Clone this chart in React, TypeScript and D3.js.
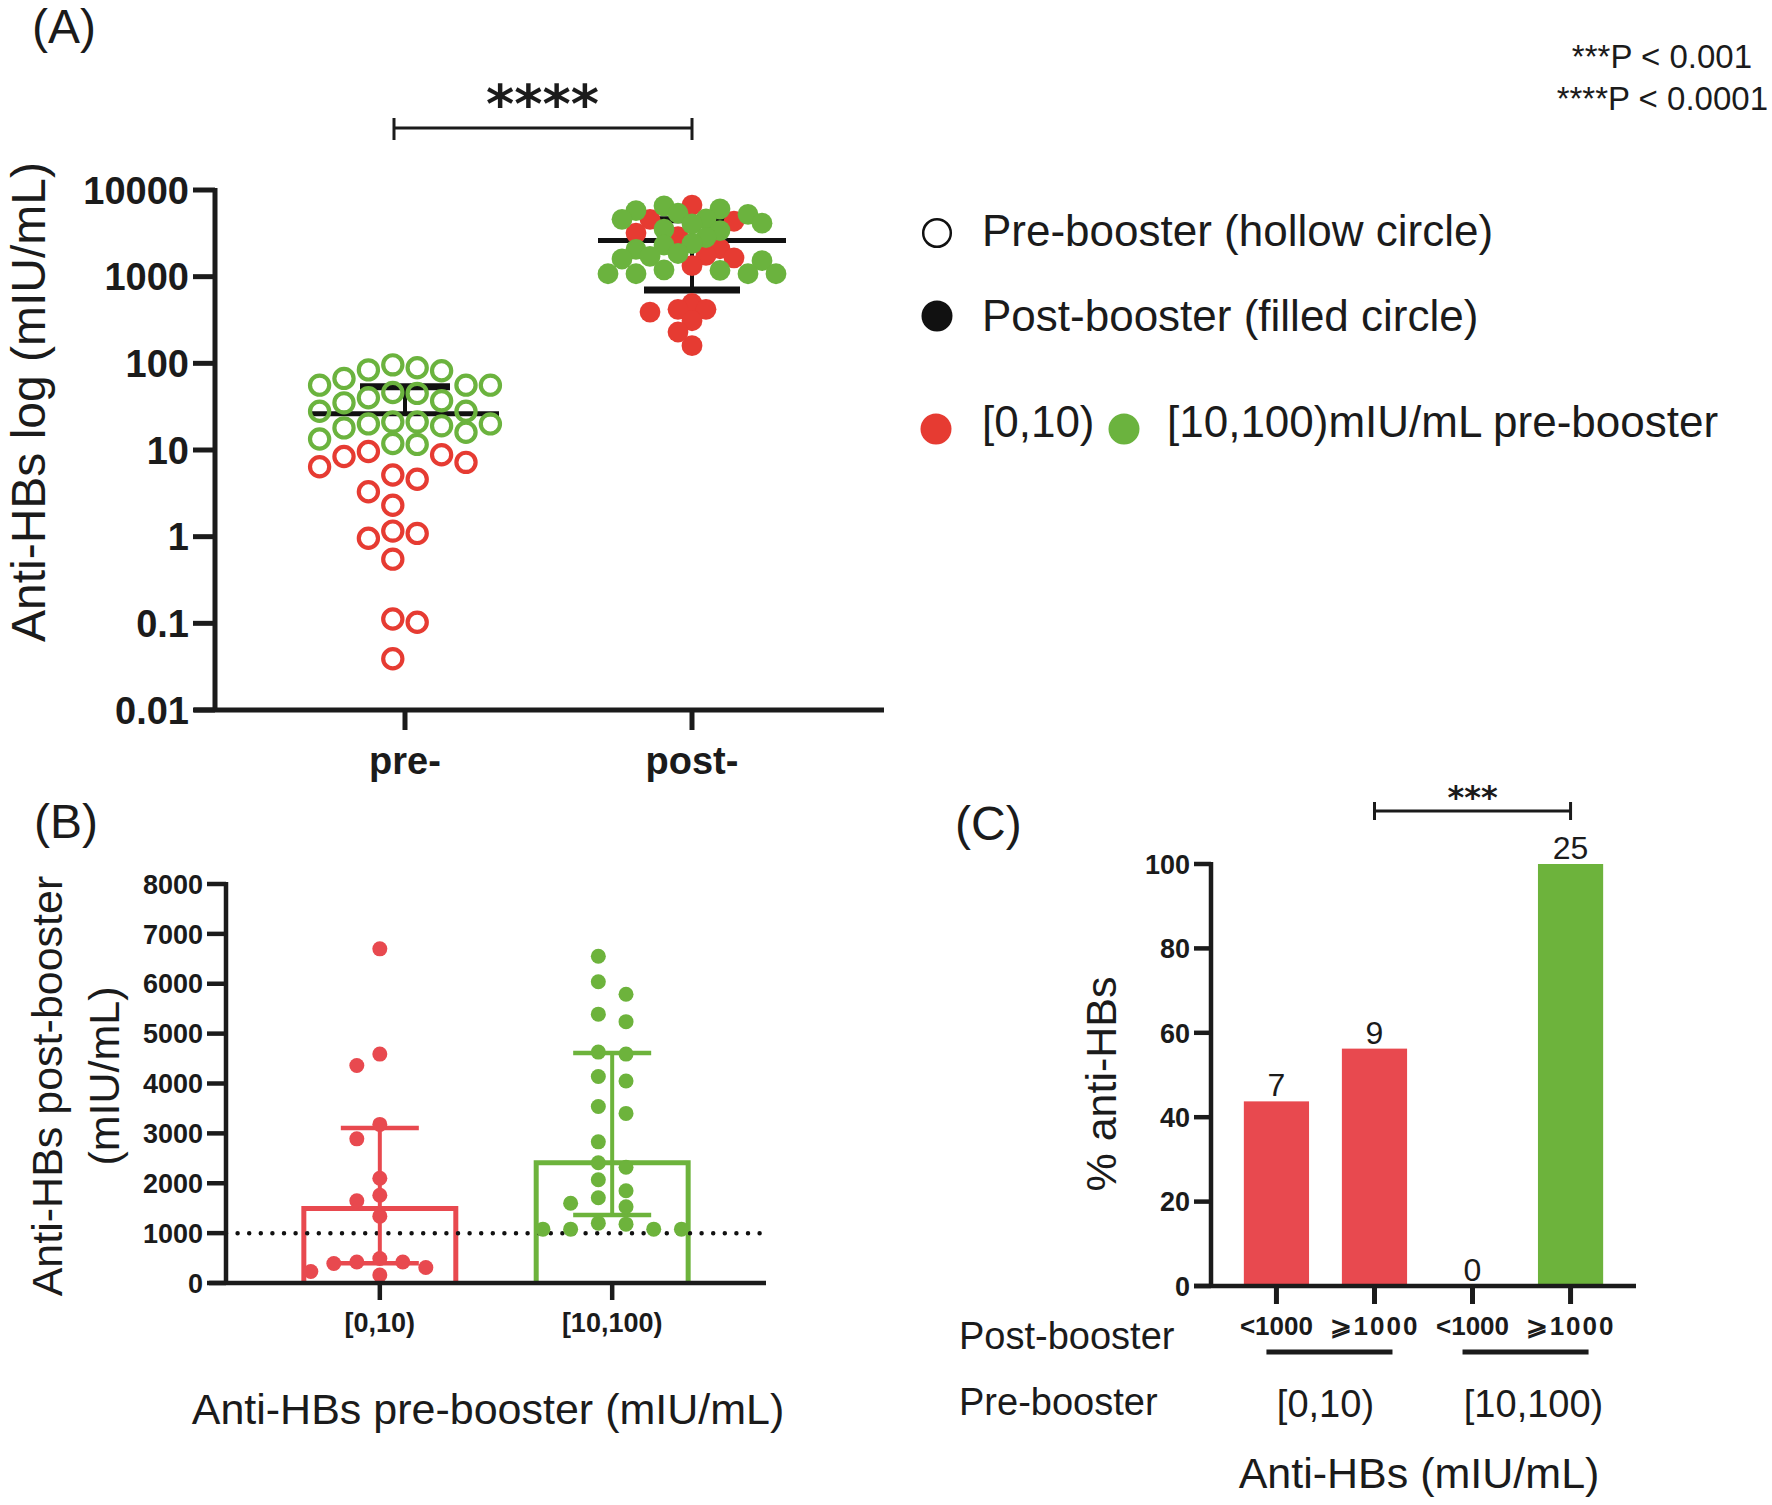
import * as d3 from "d3";

// ---- data ----
const timepoints = ["pre-", "post-"];
const logTicks = [0.01, 0.1, 1, 10, 100, 1000, 10000];
const logTickLabels = ["0.01", "0.1", "1", "10", "100", "1000", "10000"];

// pre-booster titres (mIU/mL)
const preRed = [9.6, 8.8, 7.2, 8.4, 6.4, 5.15, 4.6, 3.3, 2.3, 0.96, 1.09, 1.16, 0.55, 0.103, 0.112, 0.039];
const preGreen = [84, 89, 82, 96, 67, 56, 56, 56, 46, 40, 37, 45, 35, 28, 28, 18, 20, 21, 21, 20, 19, 11.6, 11.9, 13.4, 16];

// post-booster titres (mIU/mL), same subjects split by pre-booster group
const postRed = [6700, 4360, 4590, 3180, 2890, 2100, 1760, 1650, 1340, 490, 390, 420, 420, 310, 160, 230];
const postGreen = [6550, 6040, 5790, 5390, 5240, 4630, 4590, 4140, 4050, 3400, 3540, 2830, 2410, 2320, 2070, 1850, 1600, 1710, 1530, 1200, 1080, 1180, 1080, 1080, 1080];

const preGroups = ["[0,10)", "[10,100)"];
const postBins = ["<1000", "⩾1000"];
const cutoff = 1000;
const bTicks = [0, 1000, 2000, 3000, 4000, 5000, 6000, 7000, 8000];
const cTicks = [0, 20, 40, 60, 80, 100];

const RED_A = "#E63B32";
const GREEN_A = "#6BB33E";
const RED = "#E8494F";
const GREEN = "#6DB33C";
const INK = "#1b1b1b";
const FONT = "'Liberation Sans', Arial, Helvetica, sans-serif";
const STAR = "'DejaVu Sans', sans-serif";

// quartiles the way GraphPad does it: position p*(n+1)
function quart(values: number[], p: number) {
  const s = [...values].sort(d3.ascending);
  const pos = Math.min(Math.max(p * (s.length + 1) - 1, 0), s.length - 1);
  const lo = Math.floor(pos);
  const hi = Math.ceil(pos);
  return s[lo] + (pos - lo) * (s[hi] - s[lo]);
}

interface Pt { x: number; y: number; v: number; c: string }

// simple greedy beeswarm on a column grid
function swarm(items: { v: number; c: string }[], toY: (v: number) => number, step: number, minDist: number, half: boolean, maxK: number): Pt[] {
  const order = d3.range(items.length).sort((a, b) => items[b].v - items[a].v);
  const slots: number[] = [];
  for (let k = 0; k <= maxK; k++) {
    if (half) slots.push(-(k + 0.5) * step, (k + 0.5) * step);
    else if (k === 0) slots.push(0);
    else slots.push(-k * step, k * step);
  }
  const placed: Pt[] = [];
  const out: Pt[] = new Array(items.length);
  for (const i of order) {
    const y = toY(items[i].v);
    let best = slots[0];
    let bestGap = -Infinity;
    for (const s of slots) {
      const gap = placed.length ? d3.min(placed, (p) => Math.hypot(p.x - s, p.y - y))! : Infinity;
      if (gap >= minDist) { best = s; break; }
      if (gap > bestGap) { bestGap = gap; best = s; }
    }
    const p = { x: best, y, v: items[i].v, c: items[i].c };
    placed.push(p);
    out[i] = p;
  }
  return out;
}

function PanelA() {
  const x = d3.scalePoint<string>().domain(timepoints).range([405, 692]);
  const y = d3.scaleLog().domain([0.01, 10000]).range([710, 190]);
  const axisX0 = 215;

  const preItems = [...preRed.map((v) => ({ v, c: RED_A })), ...preGreen.map((v) => ({ v, c: GREEN_A }))];
  const postItems = [...postRed.map((v) => ({ v, c: RED_A })), ...postGreen.map((v) => ({ v, c: GREEN_A }))];
  const prePts = swarm(preItems, y, 24.4, 23.5, true, 3);
  const postPts = swarm(postItems, y, 14, 15, false, 6);

  const stats = [preItems, postItems].map((items, i) => {
    const vals = items.map((d) => d.v);
    const m = d3.mean(vals)!;
    const sd = d3.deviation(vals)!;
    return { key: timepoints[i], m, hi: m + sd, lo: m - sd };
  });

  return (
    <g>
      <text x={32} y={43} fontFamily={FONT} fontSize={48} fill={INK}>(A)</text>

      {/* significance bracket */}
      <g stroke={INK} strokeWidth={3}>
        <line x1={x("pre-")! - 11} x2={x("post-")!} y1={128} y2={128} />
        <line x1={x("pre-")! - 11} x2={x("pre-")! - 11} y1={118} y2={140} />
        <line x1={x("post-")!} x2={x("post-")!} y1={118} y2={140} />
      </g>
      <text x={(x("pre-")! + x("post-")!) / 2 - 6} y={123} textAnchor="middle" fontFamily={STAR} fontWeight="bold" fontSize={54} fill={INK}>****</text>

      {/* axes */}
      <line x1={axisX0} x2={axisX0} y1={y(10000) - 2} y2={y(0.01)} stroke={INK} strokeWidth={5} />
      <line x1={194} x2={884} y1={y(0.01)} y2={y(0.01)} stroke={INK} strokeWidth={5} />
      {logTicks.map((t, i) => (
        <g key={t}>
          <line x1={193} x2={axisX0} y1={y(t)} y2={y(t)} stroke={INK} strokeWidth={5} />
          <text x={189} y={y(t)} dy="0.36em" textAnchor="end" fontFamily={FONT} fontWeight="bold" fontSize={38} fill={INK}>{logTickLabels[i]}</text>
        </g>
      ))}
      {timepoints.map((t) => (
        <g key={t}>
          <line x1={x(t)} x2={x(t)} y1={y(0.01)} y2={y(0.01) + 20} stroke={INK} strokeWidth={5} />
          <text x={x(t)} y={774} textAnchor="middle" fontFamily={FONT} fontWeight="bold" fontSize={38} fill={INK}>{t}</text>
        </g>
      ))}
      <text transform="translate(28,402) rotate(-90)" dy="0.35em" textAnchor="middle" fontFamily={FONT} fontSize={48} fill={INK}>Anti-HBs log (mIU/mL)</text>

      {/* mean ± SD */}
      {stats.map((s) => {
        const cx = x(s.key)!;
        const top = y(s.hi);
        const bot = s.lo > 0 ? y(s.lo) : y(s.m);
        return (
          <g key={s.key} stroke="#111">
            <line x1={cx} x2={cx} y1={top} y2={bot} strokeWidth={4} />
            <line x1={cx - 94} x2={cx + 94} y1={y(s.m)} y2={y(s.m)} strokeWidth={5} />
            <line x1={cx - 45} x2={cx + 45} y1={top} y2={top} strokeWidth={7} />
            {s.lo > 0 && <line x1={cx - 48} x2={cx + 48} y1={bot} y2={bot} strokeWidth={7} />}
          </g>
        );
      })}

      {prePts.map((p, i) => (
        <circle key={`pre${i}`} cx={x("pre-")! + p.x} cy={p.y} r={9.6} fill="none" stroke={p.c} strokeWidth={4.2} />
      ))}
      {postPts.map((p, i) => (
        <circle key={`post${i}`} cx={x("post-")! + p.x} cy={p.y} r={10.4} fill={p.c} />
      ))}
    </g>
  );
}

function Legend() {
  return (
    <g fontFamily={FONT} fontSize={44} fill={INK}>
      <text x={1752} y={68} textAnchor="end" fontSize={33}>***P &lt; 0.001</text>
      <text x={1768} y={110} textAnchor="end" fontSize={33}>****P &lt; 0.0001</text>

      <circle cx={937} cy={233} r={13.8} fill="#fff" stroke="#111" strokeWidth={2.5} />
      <text x={982} y={246}>Pre-booster (hollow circle)</text>
      <circle cx={937} cy={316} r={15.5} fill="#111" />
      <text x={982} y={331}>Post-booster (filled circle)</text>
      <circle cx={936} cy={429} r={15.5} fill={RED_A} />
      <text x={982} y={437}>{preGroups[0]}</text>
      <circle cx={1124} cy={429} r={15.5} fill={GREEN_A} />
      <text x={1167} y={437}>{preGroups[1]}mIU/mL pre-booster</text>
    </g>
  );
}

function PanelB() {
  const x = d3.scaleBand<string>().domain(preGroups).range([226, 766]).paddingInner(0.346).paddingOuter(0.335);
  const y = d3.scaleLinear().domain([0, 8000]).range([1283, 884]);
  const bw = x.bandwidth();
  const groups = [
    { key: preGroups[0], vals: postRed, color: RED, step: 23, half: false, maxK: 3 },
    { key: preGroups[1], vals: postGreen, color: GREEN, step: 27.7, half: true, maxK: 2 },
  ];

  return (
    <g>
      <text x={34} y={838} fontFamily={FONT} fontSize={48} fill={INK}>(B)</text>

      {groups.map((g) => {
        const x0 = x(g.key)!;
        const med = d3.median(g.vals)!;
        return (
          <path key={g.key} d={`M${x0},${y(0)}V${y(med)}H${x0 + bw}V${y(0)}`} fill="#fff" stroke={g.color} strokeWidth={5} />
        );
      })}

      <line x1={226} x2={766} y1={y(cutoff)} y2={y(cutoff)} stroke="#111" strokeWidth={4.5} strokeDasharray="0 11.6" strokeLinecap="round" />

      {groups.map((g) => {
        const cx = x(g.key)! + bw / 2;
        const q1 = quart(g.vals, 0.25);
        const q3 = quart(g.vals, 0.75);
        return (
          <g key={g.key} stroke={g.color}>
            <line x1={cx} x2={cx} y1={y(q3)} y2={y(q1)} strokeWidth={4} />
            <line x1={cx - 39} x2={cx + 39} y1={y(q3)} y2={y(q3)} strokeWidth={4.5} />
            <line x1={cx - 39} x2={cx + 39} y1={y(q1)} y2={y(q1)} strokeWidth={4.5} />
          </g>
        );
      })}

      {groups.map((g) => {
        const cx = x(g.key)! + bw / 2;
        const pts = swarm(g.vals.map((v) => ({ v, c: g.color })), y, g.step, 15.5, g.half, g.maxK);
        return pts.map((p, i) => <circle key={`${g.key}${i}`} cx={cx + p.x} cy={p.y} r={7.5} fill={p.c} />);
      })}

      {/* axes */}
      <line x1={226} x2={226} y1={y(8000) - 2} y2={y(0)} stroke={INK} strokeWidth={4.5} />
      <line x1={209} x2={766} y1={y(0)} y2={y(0)} stroke={INK} strokeWidth={4.5} />
      {bTicks.map((t) => (
        <g key={t}>
          <line x1={207} x2={226} y1={y(t)} y2={y(t)} stroke={INK} strokeWidth={4.5} />
          <text x={203} y={y(t)} dy="0.36em" textAnchor="end" fontFamily={FONT} fontWeight="bold" fontSize={27} fill={INK}>{t}</text>
        </g>
      ))}
      {preGroups.map((g) => (
        <g key={g}>
          <line x1={x(g)! + bw / 2} x2={x(g)! + bw / 2} y1={y(0)} y2={y(0) + 17} stroke={INK} strokeWidth={4.5} />
          <text x={x(g)! + bw / 2} y={1332} textAnchor="middle" fontFamily={FONT} fontWeight="bold" fontSize={27} fill={INK}>{g}</text>
        </g>
      ))}
      <g fontFamily={FONT} fontSize={43} fill={INK} textAnchor="middle">
        <text transform="translate(47,1086) rotate(-90)" dy="0.35em">Anti-HBs post-booster</text>
        <text transform="translate(104,1076) rotate(-90)" dy="0.35em">(mIU/mL)</text>
        <text x={488} y={1424}>Anti-HBs pre-booster (mIU/mL)</text>
      </g>
    </g>
  );
}

function PanelC() {
  const bars = preGroups.flatMap((g, gi) => {
    const vals = gi === 0 ? postRed : postGreen;
    return postBins.map((b, bi) => {
      const n = vals.filter((v) => (bi === 0 ? v < cutoff : v >= cutoff)).length;
      return { id: `${g}|${b}`, group: g, bin: b, n, pct: (n / vals.length) * 100, color: gi === 0 ? RED : GREEN };
    });
  });
  const x = d3.scaleBand<string>().domain(bars.map((d) => d.id)).range([1211, 1636]).padding(0.335);
  const y = d3.scaleLinear().domain([0, 100]).range([1286, 864]);
  const bw = x.bandwidth();
  const cx = (id: string) => x(id)! + bw / 2;
  const sigA = cx(bars[1].id);
  const sigB = cx(bars[3].id);

  return (
    <g>
      <text x={955} y={840} fontFamily={FONT} fontSize={48} fill={INK}>(C)</text>

      <g stroke={INK} strokeWidth={3}>
        <line x1={sigA} x2={sigB} y1={811} y2={811} />
        <line x1={sigA} x2={sigA} y1={802} y2={820} />
        <line x1={sigB} x2={sigB} y1={802} y2={820} />
      </g>
      <text x={(sigA + sigB) / 2} y={808} textAnchor="middle" fontFamily={STAR} fontWeight="bold" fontSize={32} fill={INK}>***</text>

      {bars.map((d) => (
        <g key={d.id}>
          <rect x={x(d.id)} y={y(d.pct)} width={bw} height={y(0) - y(d.pct)} fill={d.color} />
          <text x={cx(d.id)} y={y(d.pct) - 5} textAnchor="middle" fontFamily={FONT} fontSize={32} fill={INK}>{d.n}</text>
        </g>
      ))}

      <line x1={1211} x2={1211} y1={y(100) - 2} y2={y(0)} stroke={INK} strokeWidth={4.5} />
      <line x1={1194} x2={1636} y1={y(0)} y2={y(0)} stroke={INK} strokeWidth={4.5} />
      {cTicks.map((t) => (
        <g key={t}>
          <line x1={1194} x2={1211} y1={y(t)} y2={y(t)} stroke={INK} strokeWidth={4.5} />
          <text x={1190} y={y(t)} dy="0.36em" textAnchor="end" fontFamily={FONT} fontWeight="bold" fontSize={27} fill={INK}>{t}</text>
        </g>
      ))}
      {bars.map((d) => (
        <g key={d.id}>
          <line x1={cx(d.id)} x2={cx(d.id)} y1={y(0)} y2={y(0) + 18} stroke={INK} strokeWidth={5} />
          <text x={cx(d.id)} y={1335} textAnchor="middle" fontFamily={FONT} fontWeight="bold" fontSize={26} letterSpacing={d.bin === postBins[1] ? 2 : 0} fill={INK}>{d.bin}</text>
        </g>
      ))}
      {preGroups.map((g, gi) => {
        const ids = bars.filter((d) => d.group === g).map((d) => d.id);
        const a = cx(ids[0]);
        const b = cx(ids[ids.length - 1]);
        return (
          <g key={g}>
            <line x1={a - 10} x2={b + 18} y1={1352} y2={1352} stroke={INK} strokeWidth={5} />
            <text x={(a + b) / 2 + (gi === 0 ? 0 : 12)} y={1417} textAnchor="middle" fontFamily={FONT} fontSize={38} fill={INK}>{g}</text>
          </g>
        );
      })}
      <g fontFamily={FONT} fill={INK}>
        <text x={959} y={1349} fontSize={38}>Post-booster</text>
        <text x={959} y={1415} fontSize={38}>Pre-booster</text>
        <text x={1419} y={1488} fontSize={43} textAnchor="middle">Anti-HBs (mIU/mL)</text>
        <text transform="translate(1101,1084) rotate(-90)" dy="0.35em" fontSize={43} textAnchor="middle">% anti-HBs</text>
      </g>
    </g>
  );
}

export default function App() {
  return (
    <svg width={1772} height={1505} viewBox="0 0 1772 1505" style={{ position: "absolute", left: 0, top: 0, background: "#fff" }}>
      <rect width={1772} height={1505} fill="#fff" />
      <PanelA />
      <Legend />
      <PanelB />
      <PanelC />
    </svg>
  );
}
